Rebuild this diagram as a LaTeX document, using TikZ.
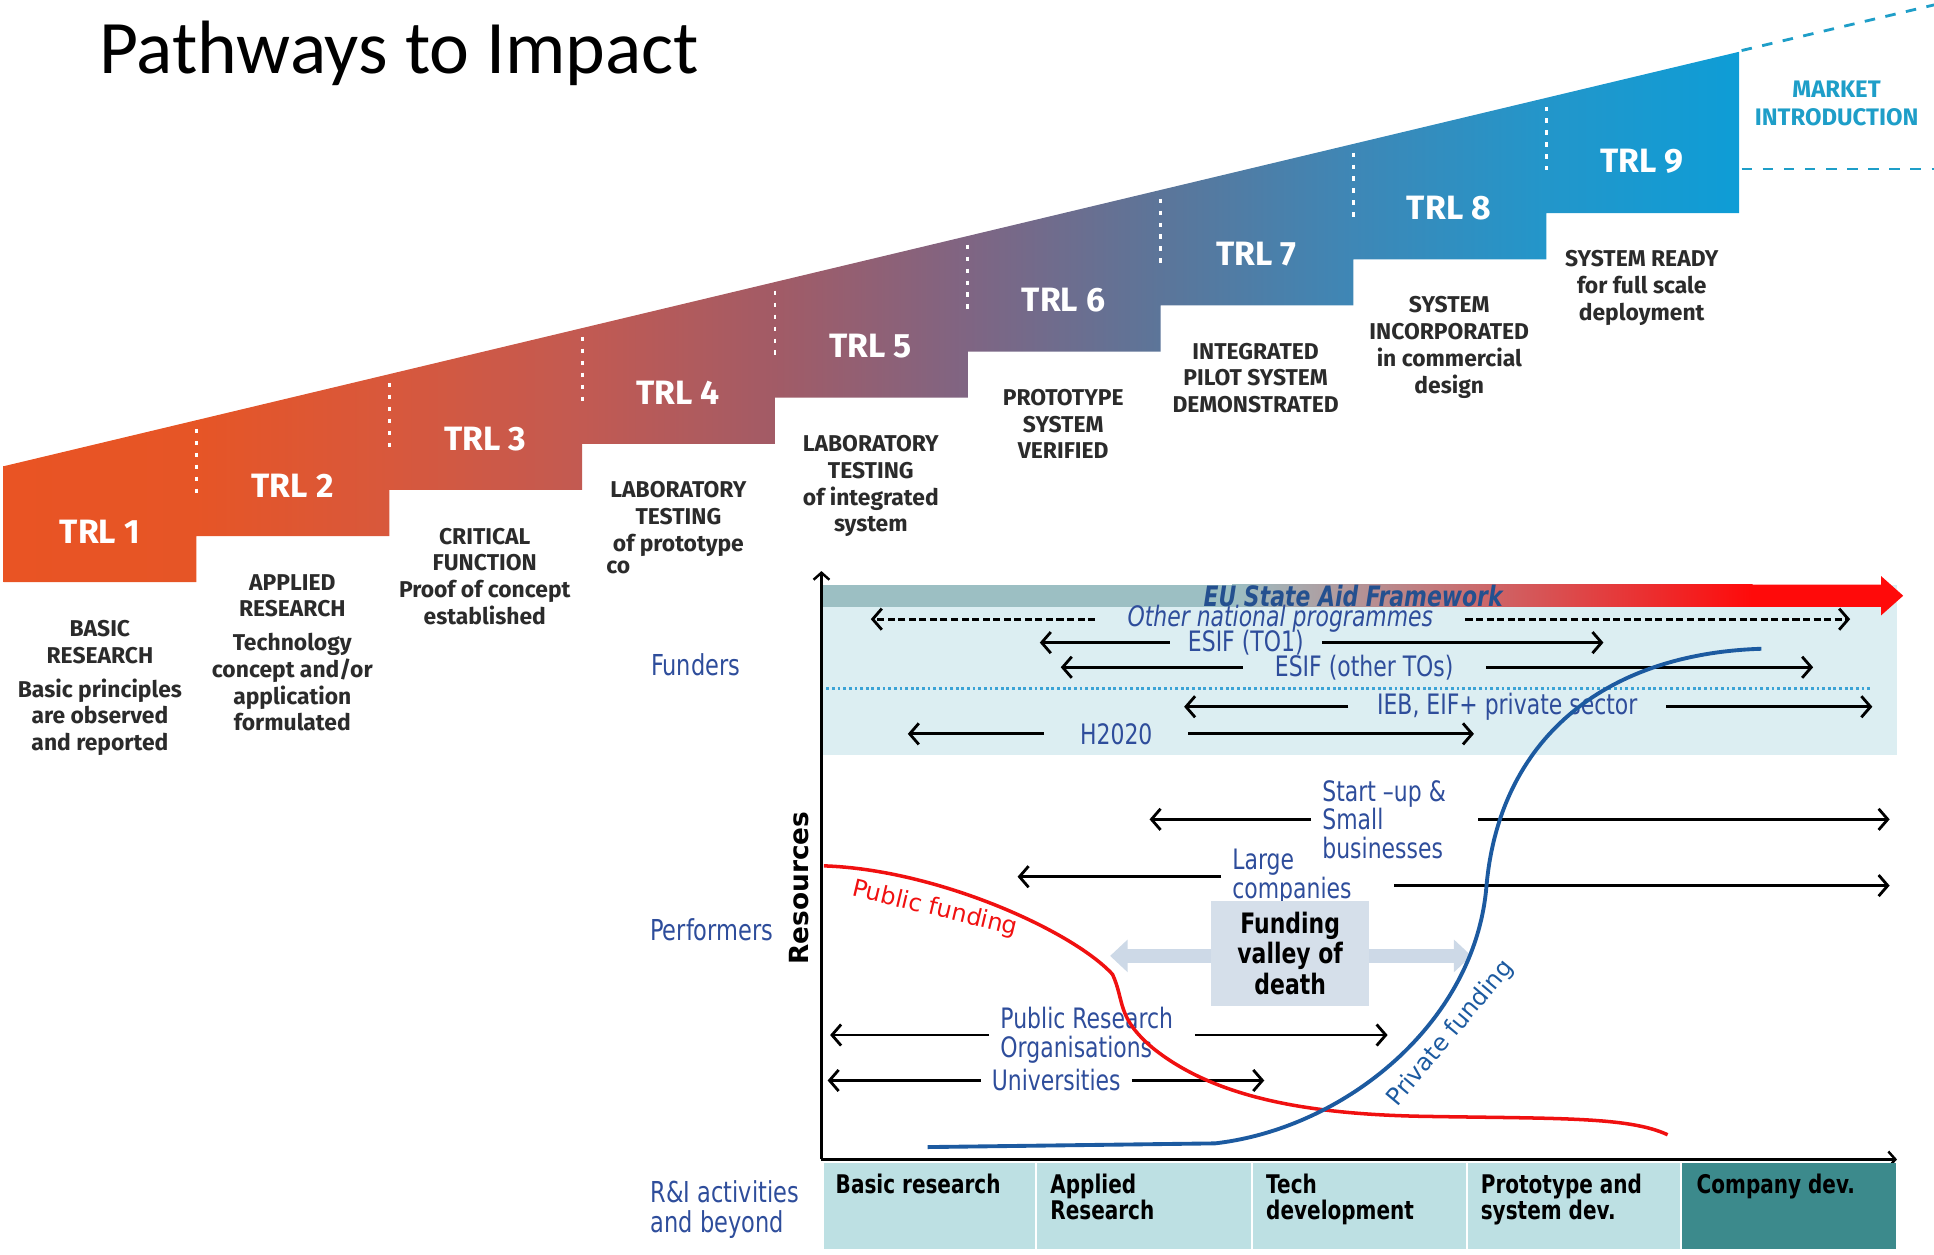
\documentclass[tikz,border=0pt]{standalone}
\usepackage{fontspec}
\usepackage{tikz}
\usetikzlibrary{arrows.meta, positioning, calc}
\usepackage{xcolor}

\newfontfamily\titlefont{Carlito}
\newfontfamily\trlfont{Fira Sans}
\newfontfamily\chartfont[FakeStretch=0.78]{DejaVu Sans}
\newfontfamily\resfont{DejaVu Sans}

\definecolor{trlc0}{HTML}{E95424}
\definecolor{trlc1}{HTML}{E65526}
\definecolor{trlc2}{HTML}{D8583C}
\definecolor{trlc3}{HTML}{C25A52}
\definecolor{trlc4}{HTML}{A25B66}
\definecolor{trlc5}{HTML}{7F6583}
\definecolor{trlc6}{HTML}{5C7599}
\definecolor{trlc7}{HTML}{3E87B6}
\definecolor{trlc8}{HTML}{2396CA}
\definecolor{trlc9}{HTML}{0E9DD6}
\definecolor{mktteal}{HTML}{1E9EC8}
\definecolor{descgray}{HTML}{2B2B2B}
\definecolor{fundband}{HTML}{DCEEF2}
\definecolor{euteal}{HTML}{9CBFC3}
\definecolor{eured}{HTML}{FF0A0A}
\definecolor{eublue}{HTML}{24508F}
\definecolor{lblblue}{HTML}{2E4D9B}
\definecolor{dotblue}{HTML}{3BA3D6}
\definecolor{valleybox}{HTML}{D5DFEA}
\definecolor{valleyarrow}{HTML}{CDD9E7}
\definecolor{actlight}{HTML}{BDE0E3}
\definecolor{actdark}{HTML}{3C8A8C}
\definecolor{pubred}{HTML}{F01010}
\definecolor{privblue}{HTML}{1C5AA0}

% orange -> mauve -> blue across the staircase
\pgfdeclarehorizontalshading{trlshade}{100bp}{color(0bp)=(trlc0); color(25bp)=(trlc0);
  color(30.5bp)=(trlc1); color(36.1bp)=(trlc2); color(41.7bp)=(trlc3); color(47.2bp)=(trlc4);
  color(52.8bp)=(trlc5); color(58.3bp)=(trlc6); color(63.9bp)=(trlc7); color(69.4bp)=(trlc8);
  color(75bp)=(trlc9); color(100bp)=(trlc9)}

\begin{document}
\begin{tikzpicture}[x=0.012334cm, y=-0.012334cm,
    trlnum/.style={font=\trlfont\bfseries\fontsize{9.6}{10}\selectfont, text=white},
    trldesc/.style={font=\trlfont\bfseries\fontsize{6.5}{7.6}\selectfont, text=descgray, align=center, anchor=north, inner sep=0pt},
    sepdots/.style={white, line width=0.8pt, dash pattern=on 1.2pt off 2.2pt},
    mktdash/.style={mktteal, line width=0.8pt, dash pattern=on 3pt off 3pt},
    sidelbl/.style={font=\chartfont\fontsize{8.2}{8.5}\selectfont, text=lblblue},
    fundlbl/.style={font=\chartfont\fontsize{8}{9.5}\selectfont, text=lblblue, inner xsep=9pt, inner ysep=0pt},
    perflbl/.style={font=\chartfont\fontsize{8}{8.1}\selectfont, text=lblblue, align=left, inner xsep=3pt, inner ysep=0pt},
    arr/.style={line width=0.8pt, -{Straight Barb[length=2.6pt,width=6pt]}},
    axisline/.style={line width=0.7pt, -{Straight Barb[length=2pt,width=4.5pt]}},
    actlbl/.style={font=\chartfont\bfseries\fontsize{7.3}{7.4}\selectfont, align=left, anchor=north west, inner sep=0pt},
    curvelbl/.style={font=\resfont\fontsize{6.8}{8}\selectfont, inner sep=0pt}
  ]
  \useasboundingbox (0,0) rectangle (1568,1017);

  % title
  \node[anchor=base west, inner sep=0pt, font=\titlefont\fontsize{21.5}{24}\selectfont] (title) at (80,60) {Pathways to Impact};

  % TRL staircase
  \shade[shading=trlshade]
    (3,378) -- (1410,42) -- (1410,172.8) -- (1253.7,172.8) -- (1253.7,210.2)
    -- (1097.3,210.2) -- (1097.3,247.6) -- (941,247.6) -- (941,285)
    -- (784.7,285) -- (784.7,322.4) -- (628.3,322.4) -- (628.3,359.8)
    -- (472,359.8) -- (472,397.2) -- (315.7,397.2) -- (315.7,434.6)
    -- (159.3,434.6) -- (159.3,472) -- (3,472) -- cycle;
  \foreach \k in {1,...,8}
    \draw[sepdots] ({3+\k*156.33},{385-\k*37.33}) -- ++(0,55);
  \foreach \i in {1,...,9}
    \node[trlnum] (trl\i) at ({81+(\i-1)*156.25},{431-(\i-1)*37.5}) {TRL \i};

  \node[trldesc] (desc1) at (81,502.5) {BASIC\\RESEARCH\\[2pt]Basic principles\\are observed\\and reported};
  \node[trldesc] (desc2) at (237,465) {APPLIED\\RESEARCH\\[2pt]Technology\\concept and/or\\application\\formulated};
  \node[trldesc] (desc3) at (393,427.5) {CRITICAL\\FUNCTION\\Proof of concept\\established};
  \node[trldesc] (desc4) at (550,390) {LABORATORY\\TESTING\\of prototype};
  \node[trldesc, anchor=base west] (desc4cut) at (491,465) {co};
  \node[trldesc] (desc5) at (706,352.5) {LABORATORY\\TESTING\\of integrated\\system};
  \node[trldesc] (desc6) at (862,315) {PROTOTYPE\\SYSTEM\\VERIFIED};
  \node[trldesc] (desc7) at (1018,277.5) {INTEGRATED\\PILOT SYSTEM\\DEMONSTRATED};
  \node[trldesc] (desc8) at (1175,240) {SYSTEM\\INCORPORATED\\in commercial\\design};
  \node[trldesc] (desc9) at (1331,202.5) {SYSTEM READY\\for full scale\\deployment};

  \node[font=\trlfont\bfseries\fontsize{6.8}{8}\selectfont, text=mktteal, align=center] (market) at (1489,84) {MARKET\\INTRODUCTION};
  \draw[mktdash] (1412,41) -- (1568,4);
  \draw[mktdash] (1412,137) -- (1568,137);

  % funders band
  \fill[fundband] (667,474) rectangle (1538,612);
  \fill[euteal] (667,474) rectangle (1000,492);
  \shade[left color=euteal, right color=eured] (999,474) rectangle (1421,492);
  \fill[eured] (1420,474) -- (1525,474) -- (1525,467) -- (1543,483) -- (1525,499) -- (1525,492) -- (1420,492) -- cycle;
  \node[font=\chartfont\bfseries\itshape\fontsize{8}{9}\selectfont, text=eublue] (euaid) at (1097,483) {EU State Aid Framework};
  \draw[dotblue, line width=0.8pt, dash pattern=on 0.8pt off 0.8pt] (670,558) -- (1518,558);

  \node[fundlbl, font=\chartfont\itshape\fontsize{8}{9.5}\selectfont] (othnat) at (1038,502) {Other national programmes};
  \coordinate (othnat-l) at (706,502);
  \coordinate (othnat-r) at (1500,502);
  \draw[arr, dash pattern=on 2pt off 1pt] (othnat) -- (othnat-l);
  \draw[arr, dash pattern=on 2pt off 1pt] (othnat) -- (othnat-r);

  \node[fundlbl, inner xsep=5pt] (esif1) at (1010,521) {ESIF (TO1)};
  \coordinate (esif1-l) at (843,521);
  \coordinate (esif1-r) at (1300,521);
  \draw[arr] (esif1) -- (esif1-l);
  \draw[arr] (esif1) -- (esif1-r);

  \node[fundlbl] (esifo) at (1106,541) {ESIF (other TOs)};
  \coordinate (esifo-l) at (860,541);
  \coordinate (esifo-r) at (1470,541);
  \draw[arr] (esifo) -- (esifo-l);
  \draw[arr] (esifo) -- (esifo-r);

  \node[fundlbl, inner xsep=8pt] (ieb) at (1222,573) {IEB, EIF+ private sector};
  \coordinate (ieb-l) at (960,573);
  \coordinate (ieb-r) at (1518,573);
  \draw[arr] (ieb) -- (ieb-l);
  \draw[arr] (ieb) -- (ieb-r);

  \node[fundlbl, inner xsep=10pt] (h2020) at (905,595) {H2020};
  \coordinate (h2020-l) at (736,595);
  \coordinate (h2020-r) at (1195,595);
  \draw[arr] (h2020) -- (h2020-l);
  \draw[arr] (h2020) -- (h2020-r);

  % performers
  \node[perflbl, anchor=north west] (startup) at (1063,632) {Start –up \&\\Small\\businesses};
  \coordinate (startup-l) at (932,665);
  \coordinate (startup-r) at (1532,665);
  \draw[arr] (startup.west) -- (startup.west -| startup-l);
  \coordinate (startup-rs) at ([xshift=6pt]startup.east);
  \draw[arr] (startup-rs) -- (startup-rs -| startup-r);

  \node[perflbl, anchor=north west] (largeco) at (990,688) {Large\\companies};
  \coordinate (largeco-l) at (825,712);
  \coordinate (largeco-r) at (1532,718);
  \draw[arr] (largeco.west) -- (largeco.west -| largeco-l);
  \coordinate (largeco-rs) at ([xshift=9pt]largeco.east);
  \draw[arr] (largeco-rs |- largeco-r) -- (largeco-r);

  \node[perflbl, anchor=north west] (pro) at (802,816) {Public Research\\Organisations};
  \coordinate (pro-l) at (673,840);
  \coordinate (pro-r) at (1125,840);
  \draw[arr] (pro.west) -- (pro.west -| pro-l);
  \coordinate (pro-rs) at ([xshift=3pt]pro.east);
  \draw[arr] (pro-rs) -- (pro-rs -| pro-r);

  \node[perflbl, anchor=west] (univ) at (795,876) {Universities};
  \coordinate (univ-l) at (671,876);
  \coordinate (univ-r) at (1025,876);
  \draw[arr] (univ) -- (univ-l);
  \draw[arr] (univ) -- (univ-r);

  % valley of death
  \coordinate (valley-l) at (900,775);
  \coordinate (valley-r) at (1193,775);
  \draw[valleyarrow, line width=4.2pt, {Triangle[length=5pt,width=9pt]}-{Triangle[length=5pt,width=9pt]}] (valley-l) -- (valley-r);
  \node[fill=valleybox, minimum width=45pt, minimum height=30pt, inner sep=1pt, align=center, font=\chartfont\bfseries\fontsize{8}{8.6}\selectfont] (valley) at (1046,773) {Funding\\valley of\\death};

  % funding curves
  \draw[pubred, line width=1pt] (668,702) .. controls (760,705) and (870,755) .. (902,790)
    .. controls (912,812) and (905,825) .. (935,850)
    .. controls (985,890) and (1060,903) .. (1150,905)
    .. controls (1260,907) and (1320,905) .. (1352,920);
  \draw[privblue, line width=1.1pt] (752,930) -- (985,927)
    .. controls (1090,915) and (1195,830) .. (1205,720)
    .. controls (1215,600) and (1300,530) .. (1428,526);
  \node[curvelbl, text=pubred, rotate=-13.5] (pubfund) at (758,737) {Public funding};
  \node[curvelbl, text=privblue, rotate=50] (privfund) at (1176,838) {Private funding};

  % axes
  \coordinate (origin) at (666,940);
  \coordinate (ytop) at (666,463);
  \coordinate (xend) at (1538,940);
  \draw[axisline] (origin) -- (ytop);
  \draw[axisline] (origin) -- (xend);
  \node[rotate=90, font=\resfont\bfseries\fontsize{7.5}{9}\selectfont] (resources) at (648,720) {Resources};

  \node[sidelbl] (funders) at (564,539) {Funders};
  \node[sidelbl] (performers) at (577,754) {Performers};
  \node[sidelbl, align=left, anchor=north west, inner sep=0pt] (rilbl) at (527,957) {R\&I activities\\and beyond};

  % R&I activities row
  \fill[actlight] (668,943) rectangle (1363,1013);
  \fill[actdark] (1363,943) rectangle (1537,1013);
  \foreach \x in {840,1015,1189,1363}
    \draw[white, line width=0.6pt] (\x,943) -- (\x,1013);
  \node[actlbl] (act1) at (677,951) {Basic research};
  \node[actlbl] (act2) at (851,951) {Applied\\Research};
  \node[actlbl] (act3) at (1026,951) {Tech\\development};
  \node[actlbl] (act4) at (1200,951) {Prototype and\\system dev.};
  \node[actlbl] (act5) at (1375,951) {Company dev.};
\end{tikzpicture}
\end{document}
